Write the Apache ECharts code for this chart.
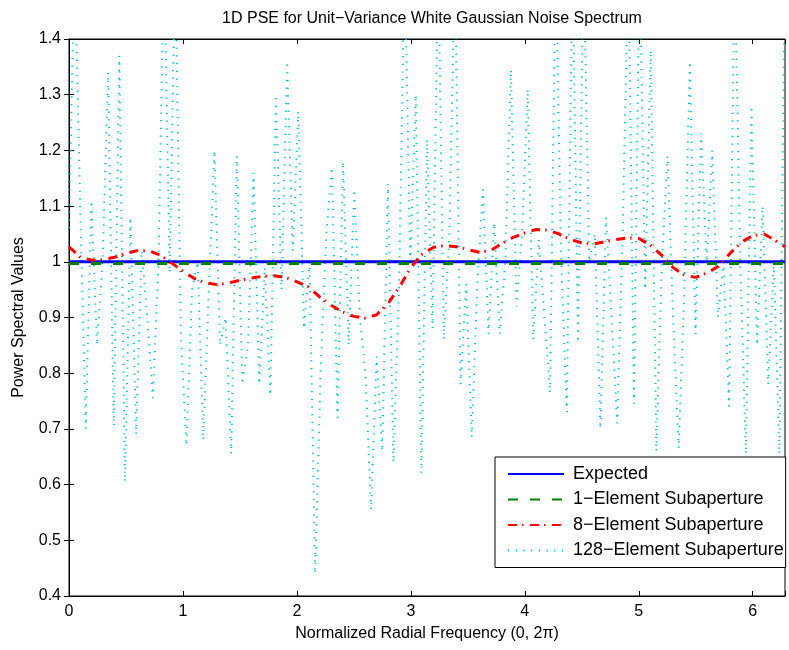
<!DOCTYPE html>
<html>
<head>
<meta charset="utf-8">
<script src="https://cdn.jsdelivr.net/npm/echarts@6/dist/echarts.min.js"></script>
<style>
html,body{margin:0;padding:0;background:#fff;}
#chart{width:789px;height:650px;}
</style>
</head>
<body>
<div id="chart"></div>
<script>
// ---- data ----
const seriesNames = ['Expected', '1\u2212Element Subaperture', '8\u2212Element Subaperture', '128\u2212Element Subaperture'];
const xTicks = [0, 1, 2, 3, 4, 5, 6];
const yTicks = [0.4, 0.5, 0.6, 0.7, 0.8, 0.9, 1.0, 1.1, 1.2, 1.3, 1.4];
const expectedVals = [1.0, 1.0];
const oneElemVals = [0.997, 0.997];
const eightX = [0,0.1,0.2,0.3,0.4,0.5,0.6,0.7,0.8,0.9,1.0,1.1,1.2,1.3,1.4,1.5,1.6,1.7,1.8,1.9,2.0,2.1,2.2,2.3,2.4,2.5,2.6,2.7,2.8,2.9,3.0,3.1,3.2,3.3,3.4,3.5,3.6,3.7,3.8,3.9,4.0,4.1,4.2,4.3,4.4,4.5,4.6,4.7,4.8,4.9,5.0,5.1,5.2,5.3,5.4,5.5,5.6,5.7,5.8,5.9,6.0,6.1,6.2,6.2832];
const eightVals = [1.027,1.008,1.003,1.004,1.008,1.015,1.02,1.02,1.012,0.998,0.983,0.97,0.962,0.959,0.962,0.967,0.971,0.974,0.975,0.972,0.964,0.955,0.937,0.922,0.91,0.902,0.899,0.905,0.925,0.955,0.99,1.014,1.026,1.029,1.027,1.022,1.017,1.02,1.033,1.044,1.052,1.058,1.057,1.05,1.04,1.034,1.032,1.036,1.04,1.043,1.042,1.03,1.012,0.99,0.976,0.972,0.98,0.992,1.015,1.035,1.047,1.05,1.038,1.027];
const vals128 = [1.06,1.55,1.10,0.70,1.11,0.85,1.00,1.34,0.705,1.37,0.605,1.08,0.69,1.02,0.90,0.755,1.00,1.55,0.98,1.55,0.87,0.67,0.95,1.00,0.68,0.95,1.20,0.85,0.90,0.655,1.19,0.78,0.85,1.16,0.78,0.99,0.76,1.30,0.95,1.36,1.02,1.27,0.88,1.00,0.44,0.81,1.05,1.17,0.72,1.18,0.85,1.13,0.90,0.80,0.555,0.83,0.66,1.14,0.64,0.95,1.55,1.00,1.30,0.62,1.22,0.88,1.55,0.86,1.05,1.55,0.78,0.96,0.685,0.96,1.13,0.87,1.07,0.87,1.00,1.345,0.92,1.05,1.31,0.86,1.04,0.90,0.765,1.55,1.00,0.73,1.55,0.855,1.55,1.00,1.05,0.70,1.08,0.90,0.71,1.06,1.55,0.745,1.55,0.95,1.38,0.66,1.00,1.19,0.90,0.665,0.95,1.36,0.87,1.23,1.00,1.20,0.90,1.00,0.74,1.55,1.00,0.655,1.28,0.85,1.10,0.78,1.00,0.655,1.55];

// ---- build ----
const TWO_PI = 2 * Math.PI;
const data128 = vals128.map((v, i) => [i * TWO_PI / (vals128.length - 1), v]);
const dataEight = eightX.map((x, i) => [x, eightVals[i]]);
const dataExp = [[0, expectedVals[0]], [TWO_PI, expectedVals[1]]];
const dataOne = [[0, oneElemVals[0]], [TWO_PI, oneElemVals[1]]];

const FONT = 'Liberation Sans, Arial, Helvetica, sans-serif';
const fs = 16;
const yFmt = v => {
  const r = Math.round(v * 10) / 10;
  return yTicks.some(t => Math.abs(t - r) < 1e-9) && Math.abs(v - r) < 1e-6 ? String(r) : '';
};
const xFmt = v => {
  const r = Math.round(v);
  return xTicks.includes(r) && Math.abs(v - r) < 1e-6 ? String(r) : '';
};

const chart = echarts.init(document.getElementById('chart'), null, {renderer: 'canvas'});
chart.setOption({
  animation: false,
  backgroundColor: '#fff',
  title: {
    text: '1D PSE for Unit\u2212Variance White Gaussian Noise Spectrum',
    left: 427, top: 6, textAlign: 'center',
    textStyle: {fontFamily: FONT, fontSize: fs, fontWeight: 'normal', color: '#000'}
  },
  grid: {left: 69, right: 4, top: 39, bottom: 54, show: true, borderColor: '#000', borderWidth: 1, containLabel: false},
  legend: {
    orient: 'vertical',
    left: 495, top: 457,
    padding: [8, 2, 8, 12],
    itemWidth: 56, itemHeight: 18, itemGap: 7.5,
    backgroundColor: '#fff', borderColor: '#000', borderWidth: 1,
    itemStyle: {color: 'transparent', borderWidth: 0, opacity: 0},
    textStyle: {fontFamily: FONT, fontSize: 18, color: '#000', lineHeight: 18, padding: [0, 0, 0, 4]},
    data: seriesNames,
    selectedMode: false
  },
  xAxis: [{
    type: 'value', min: 0, max: TWO_PI, interval: 1,
    name: 'Normalized Radial Frequency (0, 2\u03c0)', nameLocation: 'middle', nameGap: 30,
    nameTextStyle: {fontFamily: FONT, fontSize: fs, color: '#000'},
    axisLine: {show: true, lineStyle: {color: '#000', width: 1}},
    axisTick: {show: true, inside: true, length: 5, lineStyle: {color: '#000'}},
    axisLabel: {formatter: xFmt, fontFamily: FONT, fontSize: fs, color: '#000', margin: 8},
    splitLine: {show: false}
  }, {
    type: 'value', min: 0, max: TWO_PI, interval: 1, position: 'top',
    axisLine: {show: true, lineStyle: {color: '#000', width: 1}},
    axisTick: {show: true, inside: true, length: 5, lineStyle: {color: '#000'}},
    axisLabel: {show: false}, splitLine: {show: false}
  }],
  yAxis: [{
    type: 'value', min: 0.4, max: 1.4, interval: 0.1,
    name: 'Power Spectral Values', nameLocation: 'middle', nameGap: 42,
    nameTextStyle: {fontFamily: FONT, fontSize: fs, color: '#000'},
    axisLine: {show: true, lineStyle: {color: '#000', width: 1}},
    axisTick: {show: true, inside: true, length: 5, lineStyle: {color: '#000'}},
    axisLabel: {formatter: yFmt, fontFamily: FONT, fontSize: fs, color: '#000', margin: 8},
    splitLine: {show: false}
  }, {
    type: 'value', min: 0.4, max: 1.4, interval: 0.1, position: 'right',
    axisLine: {show: true, lineStyle: {color: '#000', width: 1}},
    axisTick: {show: true, inside: true, length: 5, lineStyle: {color: '#000'}},
    axisLabel: {show: false}, splitLine: {show: false}
  }],
  series: [
    {
      name: seriesNames[3], type: 'line', data: data128, showSymbol: false, symbol: 'none',
      clip: true, z: 1,
      lineStyle: {color: '#00BFBF', width: 2, type: [1.2, 6.5], cap: 'butt'},
      itemStyle: {color: '#00BFBF'}
    },
    {
      name: seriesNames[0], type: 'line', data: dataExp, showSymbol: false, symbol: 'none', z: 2,
      lineStyle: {color: '#0000FF', width: 3, type: 'solid'},
      itemStyle: {color: '#0000FF'}
    },
    {
      name: seriesNames[1], type: 'line', data: dataOne, showSymbol: false, symbol: 'none', z: 3,
      lineStyle: {color: '#007F00', width: 3, type: [10, 12]},
      itemStyle: {color: '#007F00'}
    },
    {
      name: seriesNames[2], type: 'line', data: dataEight, showSymbol: false, symbol: 'none', smooth: false, z: 4,
      lineStyle: {color: '#FF0000', width: 3, type: [9, 5, 1.5, 6.5]},
      itemStyle: {color: '#FF0000'}
    }
  ]
});
</script>
</body>
</html>
